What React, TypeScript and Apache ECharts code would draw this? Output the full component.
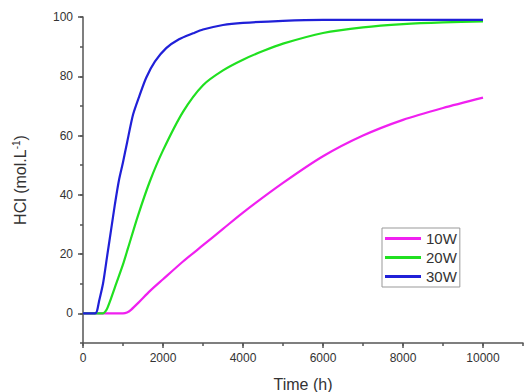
import React, { useEffect, useRef } from "react";
import * as echarts from "echarts";

// Time (h) and HCl (mol.L-1)
const t10 = [0, 1000, 1100, 1200, 1400, 1670, 2000, 2500, 3000, 3500, 4000, 5000, 6000, 7000, 8000, 9000, 10000];
const v10 = [0, 0, 0.3, 1.2, 3.8, 7.5, 11.5, 17.5, 23, 28.5, 34, 44, 53, 60, 65.3, 69.3, 72.8];

const t20 = [0, 500, 550, 600, 700, 830, 1000, 1125, 1375, 1670, 2000, 2500, 3000, 3500, 4000, 4500, 5000, 6000, 7000, 8000, 9000, 10000];
const v20 = [0, 0, 0.5, 1.5, 5, 10, 16.5, 22, 33, 44.5, 55, 68, 77, 82, 85.6, 88.5, 91, 94.6, 96.5, 97.6, 98.2, 98.5];

const t30 = [0, 300, 350, 400, 500, 600, 700, 800, 900, 1000, 1100, 1250, 1400, 1580, 1800, 2080, 2400, 2750, 3000, 3500, 4000, 5000, 6000, 7000, 8000, 9000, 10000];
const v30 = [0, 0, 0.8, 4, 10, 19, 28, 37, 45, 51, 57.5, 67, 73, 79.5, 85, 89.5, 92.5, 94.5, 95.8, 97.3, 98, 98.7, 99, 99, 99, 99, 99];

const seriesNames = ["10W", "20W", "30W"];
const seriesColors = ["#f020f0", "#20e020", "#2020d8"];

const xMajor = [0, 2000, 4000, 6000, 8000, 10000];
const yMajor = [0, 20, 40, 60, 80, 100];

const FONT = "'Liberation Sans', Arial, sans-serif";

export default function App() {
  const ref = useRef<HTMLDivElement>(null);
  useEffect(() => {
    if (!ref.current) return;
    const chart = echarts.init(ref.current, null, { renderer: "svg" });
    const pairs = (t: number[], v: number[]) => t.map((x, i) => [x, v[i]]);
    const data = [pairs(t10, v10), pairs(t20, v20), pairs(t30, v30)];
    const axisColor = "#555";
    const xFmt = (v: number) => (xMajor.indexOf(v) >= 0 ? String(v) : "");
    const yFmt = (v: number) => (yMajor.indexOf(v) >= 0 ? String(v) : "");
    // plot area: x 0..11000 over 440px, y -10..100 over 326px
    const pxPerY = 326 / 110;
    const pxPerX = 440 / 11000;
    chart.setOption({
      animation: false,
      textStyle: { fontFamily: FONT },
      grid: [
        { left: 83, right: 1, top: 17, bottom: 49, containLabel: false, outerBoundsMode: "none" },
        {
          left: 83,
          right: 1 + 1000 * pxPerX,
          top: 17,
          bottom: 49 + 10 * pxPerY,
          containLabel: false,
          outerBoundsMode: "none",
        },
      ],
      legend: {
        orient: "vertical",
        left: 382,
        top: 228,
        icon: "rect",
        itemWidth: 36,
        itemHeight: 3,
        itemGap: 4,
        padding: [3, 3, 3, 3],
        borderColor: "#999",
        borderWidth: 1,
        textStyle: { fontSize: 15, color: "#333", fontFamily: FONT },
        data: seriesNames,
      },
      xAxis: [
        {
          type: "value",
          gridIndex: 0,
          min: 0,
          max: 11000,
          interval: 1000,
          name: "Time (h)",
          nameLocation: "middle",
          nameGap: 33,
          nameTextStyle: { fontSize: 16, color: "#333", fontFamily: FONT },
          axisLine: { show: true, onZero: false, lineStyle: { color: axisColor, width: 1.5 } },
          axisTick: { show: true, inside: false, length: 3, lineStyle: { color: axisColor, width: 1.5 } },
          axisLabel: { show: true, formatter: xFmt, fontSize: 12, color: "#333", margin: 9, fontFamily: FONT },
          splitLine: { show: false },
        },
        {
          type: "value",
          gridIndex: 1,
          min: 0,
          max: 10000,
          interval: 2000,
          position: "bottom",
          offset: 10 * pxPerY,
          axisLine: { show: false, onZero: false },
          axisTick: { show: true, length: 5, lineStyle: { color: axisColor, width: 1.5 } },
          axisLabel: { show: false },
          splitLine: { show: false },
        },
      ],
      yAxis: [
        {
          type: "value",
          gridIndex: 0,
          min: -10,
          max: 100,
          interval: 10,
          name: "HCl (mol.L{sup|-1})",
          nameLocation: "middle",
          nameGap: 53,
          nameTextStyle: {
            fontSize: 16,
            color: "#333",
            fontFamily: FONT,
            rich: { sup: { fontSize: 10, padding: [0, 0, 9, 0], color: "#333", fontFamily: FONT } },
          },
          axisLine: { show: true, onZero: false, lineStyle: { color: axisColor, width: 1.5 } },
          axisTick: { show: true, inside: false, length: 3, lineStyle: { color: axisColor, width: 1.5 } },
          axisLabel: { show: true, formatter: yFmt, fontSize: 12, color: "#333", margin: 10, fontFamily: FONT },
          splitLine: { show: false },
        },
        {
          type: "value",
          gridIndex: 1,
          min: 0,
          max: 100,
          interval: 20,
          position: "left",
          axisLine: { show: false, onZero: false },
          axisTick: { show: true, length: 5, lineStyle: { color: axisColor, width: 1.5 } },
          axisLabel: { show: false },
          splitLine: { show: false },
        },
      ],
      series: seriesNames.map((name, i) => ({
        name,
        type: "line",
        data: data[i],
        xAxisIndex: 0,
        yAxisIndex: 0,
        symbol: "none",
        showSymbol: false,
        smooth: 0.25,
        color: seriesColors[i],
        lineStyle: { color: seriesColors[i], width: 2.2 },
        itemStyle: { color: seriesColors[i] },
      })),
    });
    return () => chart.dispose();
  }, []);
  return (
    <div
      ref={ref}
      style={{ position: "fixed", left: 0, top: 0, width: 524, height: 392, background: "#fff" }}
    />
  );
}
